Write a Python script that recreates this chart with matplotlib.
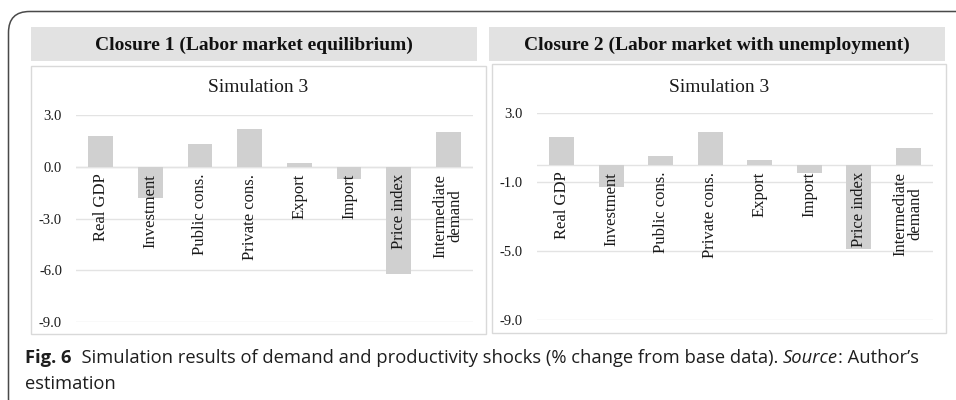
import matplotlib.pyplot as plt
from matplotlib.patches import FancyBboxPatch, Rectangle

# values (% change from base data)
categories = ["Real GDP", "Investment", "Public cons.", "Private cons.",
              "Export", "Import", "Price index", "Intermediate\ndemand"]
closure1 = [1.8, -1.8, 1.3, 2.2, 0.2, -0.7, -6.2, 2.0]
closure2 = [1.6, -1.3, 0.5, 1.9, 0.3, -0.5, -4.9, 1.0]
ticks1 = [3.0, 0.0, -3.0, -6.0, -9.0]
ticks2 = [3.0, -1.0, -5.0, -9.0]
headers = ["Closure 1 (Labor market equilibrium)",
           "Closure 2 (Labor market with unemployment)"]
subtitle = "Simulation 3"

W, H = 956, 400
fig = plt.figure(figsize=(W / 100, H / 100), dpi=100)
fig.patch.set_facecolor("white")

SERIF = "Liberation Serif"
BAR = "#d0d0d0"
GRID = "#e3e3e3"


def fx(x):
    return x / W


def fy(y):
    return 1 - y / H


def px_rect(x0, y0, x1, y1):
    return [fx(x0), fy(y1), (x1 - x0) / W, (y1 - y0) / H]


# outer rounded border (runs off the right and bottom edges)
fig.patches.append(FancyBboxPatch((fx(8.5), fy(420)), (980 - 8.5) / W, (420 - 11.5) / H,
                                  boxstyle="round,pad=0,rounding_size=0.022",
                                  transform=fig.transFigure, fill=False,
                                  edgecolor="#4a4a4a", linewidth=1.1,
                                  mutation_aspect=W / H, zorder=-2))

panels = [
    dict(header=(31, 27, 477, 61), frame=(31, 66, 486, 334), ax=(76, 115, 473, 322),
         vals=closure1, ticks=ticks1, title=headers[0]),
    dict(header=(489, 27, 945, 61), frame=(492, 64, 946, 333), ax=(537, 113, 933, 320),
         vals=closure2, ticks=ticks2, title=headers[1]),
]

for p in panels:
    hx0, hy0, hx1, hy1 = p["header"]
    fig.patches.append(Rectangle((fx(hx0), fy(hy1)), (hx1 - hx0) / W, (hy1 - hy0) / H,
                                 transform=fig.transFigure, facecolor="#e2e2e2",
                                 edgecolor="none", zorder=-2))
    fig.text(fx((hx0 + hx1) / 2), fy((hy0 + hy1) / 2 + 1), p["title"], family=SERIF,
             fontsize=14, fontweight="bold", ha="center", va="center", color="#111111")

    bx0, by0, bx1, by1 = p["frame"]
    fig.patches.append(Rectangle((fx(bx0), fy(by1)), (bx1 - bx0) / W, (by1 - by0) / H,
                                 transform=fig.transFigure, facecolor="white",
                                 edgecolor="#d9d9d9", linewidth=1, zorder=-2))
    fig.text(fx((bx0 + bx1) / 2), fy(87), subtitle, family=SERIF, fontsize=14,
             ha="center", va="center", color="#1a1a1a")

    ax = fig.add_axes(px_rect(*p["ax"]))
    ax.set_zorder(1)
    ax.set_facecolor("none")
    x = range(len(categories))
    ax.bar(x, p["vals"], width=0.5, color=BAR, zorder=2)
    ax.set_xlim(-0.5, len(categories) - 0.5)
    ax.set_ylim(-9, 3)
    ax.set_yticks(p["ticks"])
    ax.set_yticklabels(["%.1f" % t for t in p["ticks"]], family=SERIF, fontsize=10.5,
                       color="#1a1a1a")
    ax.tick_params(axis="y", length=0, pad=10)
    ax.set_xticks([])
    ax.grid(axis="y", color=GRID, linewidth=1, zorder=0)
    ax.axhline(0, color=GRID, linewidth=1, zorder=1)
    for s in ax.spines.values():
        s.set_visible(False)
    for i, c in enumerate(categories):
        ax.annotate(c, (i, 0), xytext=(0, -5), textcoords="offset points",
                    rotation=90, ha="center", va="top", multialignment="center",
                    family=SERIF, fontsize=12, color="#1a1a1a", zorder=3,
                    linespacing=0.9)

# caption, built piece by piece so the bold and italic parts follow on
CAP = ["Open Sans", "DejaVu Sans"]
cap_size = 13.2
fig.canvas.draw()
r = fig.canvas.get_renderer()
pieces = [("Fig. 6", "bold", "normal"),
          ("  Simulation results of demand and productivity shocks (% change from base data). ",
           "normal", "normal"),
          ("Source", "normal", "italic"),
          (": Author\u2019s", "normal", "normal")]
xpos = 25
for txt, wt, st in pieces:
    t = fig.text(fx(xpos), fy(363), txt, family=CAP, fontsize=cap_size, fontweight=wt,
                 fontstyle=st, ha="left", va="baseline", color="#1e1e1e")
    xpos = t.get_window_extent(renderer=r).x1
fig.text(fx(25), fy(389), "estimation", family=CAP, fontsize=cap_size, ha="left",
         va="baseline", color="#1e1e1e")

fig.savefig("out.png", dpi=100)
